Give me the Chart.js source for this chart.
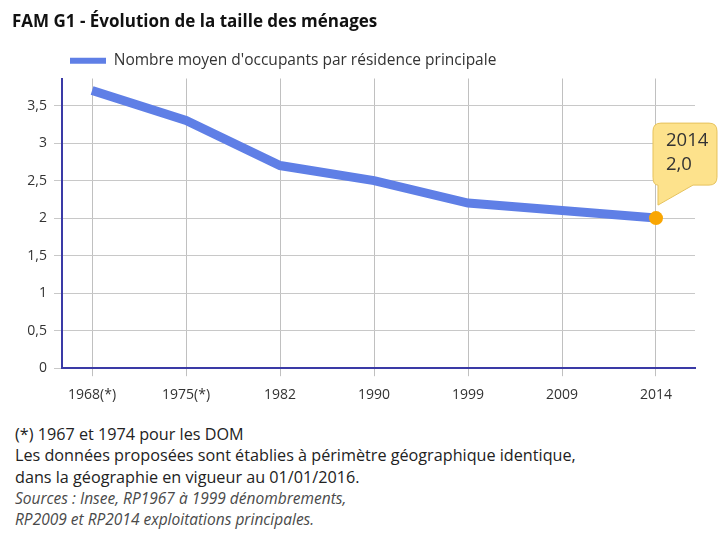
<!DOCTYPE html>
<html>
<head>
<meta charset="utf-8">
<script src="https://cdn.jsdelivr.net/npm/chart.js@4"></script>
<style>
  body { margin: 0; background: #fff; font-family: "Open Sans", sans-serif; }
  #wrap { position: relative; width: 728px; height: 413px; }
  #notes { margin: 11px 0 0 15px; color: #222; font-size: 16.2px; line-height: 21.3px; }
  #notes .src { font-style: italic; font-size: 15.5px; color: #4a4a4a; }
</style>
</head>
<body>
<div id="wrap"><canvas id="mycanvas1" width="728" height="413"></canvas></div>
<div id="notes">
  (*) 1967 et 1974 pour les DOM<br>
  Les données proposées sont établies à périmètre géographique identique,<br>
  dans la géographie en vigueur au 01/01/2016.<br>
  <span class="src">Sources : Insee, RP1967 à 1999 dénombrements,<br>
  RP2009 et RP2014 exploitations principales.</span>
</div>
<script>
// donnees
var annees = ['1968(*)', '1975(*)', '1982', '1990', '1999', '2009', '2014'];
var occupants = [3.7, 3.3, 2.7, 2.5, 2.2, 2.1, 2.0];
var yTicks = [0, 0.5, 1, 1.5, 2, 2.5, 3, 3.5];
var bulleAnnee = '2014';

var virgule = function(v) { return String(v).replace('.', ','); };

var points = [];
for (var i in occupants) {
  points.push({ x: Number(i), y: occupants[i] });
}

// decale la legende vers la droite
var legendShift = {
  id: 'legendShift',
  afterLayout: function(chart) { chart.legend.left += 48; }
};

// bulle jaune sur le dernier point
var bulle = {
  id: 'bulle',
  afterDatasetsDraw: function(chart) {
    var ctx = chart.ctx;
    var meta = chart.getDatasetMeta(0);
    var last = meta.data.length - 1;
    var pt = meta.data[last];
    var bx = pt.x - 3, by = pt.y - 95, bw = 64, bh = 62, r = 8;
    ctx.save();
    ctx.fillStyle = '#fde28c';
    ctx.strokeStyle = '#e6c25c';
    ctx.lineWidth = 1;
    ctx.beginPath();
    ctx.moveTo(bx + r, by);
    ctx.lineTo(bx + bw - r, by);
    ctx.quadraticCurveTo(bx + bw, by, bx + bw, by + r);
    ctx.lineTo(bx + bw, by + bh - r);
    ctx.quadraticCurveTo(bx + bw, by + bh, bx + bw - r, by + bh);
    ctx.lineTo(bx + 40, by + bh);
    ctx.lineTo(pt.x + 2, pt.y - 13);
    ctx.lineTo(bx + 5, by + bh);
    ctx.quadraticCurveTo(bx, by + bh, bx, by + bh - r);
    ctx.lineTo(bx, by + r);
    ctx.quadraticCurveTo(bx, by, bx + r, by);
    ctx.closePath();
    ctx.fill();
    ctx.stroke();
    ctx.fillStyle = '#333';
    ctx.font = '18.5px "Open Sans"';
    ctx.textBaseline = 'middle';
    ctx.fillText(bulleAnnee, bx + 13, by + 18);
    ctx.fillText(occupants[last].toFixed(1).replace('.', ','), bx + 13, by + 42);
    ctx.restore();
  }
};

var pointRadius = occupants.map(function(v, i) { return i == occupants.length - 1 ? 7 : 0; });

var ctx = document.getElementById('mycanvas1');
var chart = new Chart(ctx, {
  type: 'line',
  data: {
    datasets: [{
      label: "Nombre moyen d'occupants par résidence principale",
      data: points,
      borderColor: '#5f7fe6',
      backgroundColor: '#5f7fe6',
      borderWidth: 9,
      tension: 0,
      pointRadius: pointRadius,
      pointHoverRadius: pointRadius,
      pointBackgroundColor: '#f9a602',
      pointBorderColor: '#f9a602',
      pointBorderWidth: 0
    }]
  },
  options: {
    responsive: false,
    animation: false,
    layout: { padding: { left: 12, right: 33, top: 0, bottom: 0 } },
    plugins: {
      title: {
        display: true,
        text: 'FAM G1 - Évolution de la taille des ménages',
        align: 'start',
        color: '#111',
        font: { family: 'Open Sans', size: 17, weight: 'bold' },
        padding: { top: 12, bottom: 10.6 }
      },
      legend: {
        align: 'start',
        labels: {
          boxWidth: 36,
          boxHeight: 6,
          color: '#333',
          font: { family: 'Open Sans', size: 15.5 },
          padding: 10,
          generateLabels: function(chart) {
            var items = Chart.defaults.plugins.legend.labels.generateLabels(chart);
            items.forEach(function(it) { it.lineWidth = 0; it.fillStyle = '#5f7fe6'; });
            return items;
          }
        }
      },
      tooltip: { enabled: false }
    },
    scales: {
      x: {
        type: 'linear',
        min: -0.32,
        max: 6.415,
        afterBuildTicks: function(s) {
          s.ticks = annees.map(function(a, i) { return { value: i }; });
        },
        ticks: {
          autoSkip: false,
          maxRotation: 0,
          color: '#333',
          font: { family: 'Open Sans', size: 14 },
          padding: 10,
          callback: function(v) { return annees[v]; }
        },
        grid: { color: '#c0c0c0', lineWidth: 1, tickLength: 8 },
        border: { color: '#3a3aa6', width: 2 }
      },
      y: {
        min: 0,
        max: 3.86,
        afterBuildTicks: function(s) {
          s.ticks = yTicks.map(function(v) { return { value: v }; });
        },
        afterFit: function(s) { s.width = 50; },
        ticks: {
          color: '#333',
          font: { family: 'Open Sans', size: 14 },
          padding: 7,
          callback: function(v) { return virgule(v); }
        },
        grid: { color: '#c8c8c8', lineWidth: 1, tickLength: 8 },
        border: { color: '#3a3aa6', width: 2 }
      }
    }
  },
  plugins: [legendShift, bulle]
});
</script>
</body>
</html>
